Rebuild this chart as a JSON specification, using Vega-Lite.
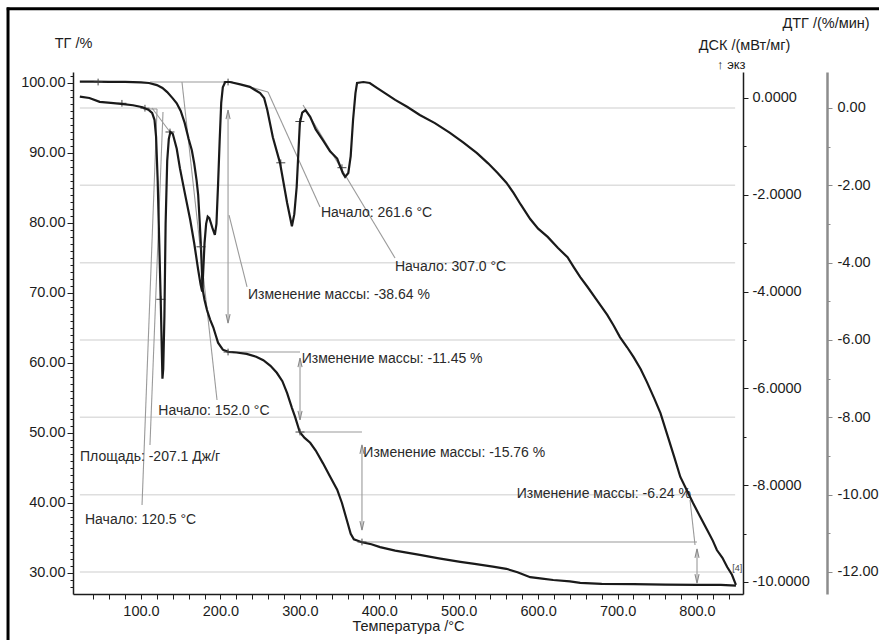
{
"$schema": "https://vega.github.io/schema/vega-lite/v6.json",
"width": 670, "height": 522,
"autosize": {"type": "none"},
"padding": {"left": 73, "top": 72, "right": 136, "bottom": 46},
"background": "white",
"config": {
  "view": {"stroke": null},
  "font": "Liberation Sans",
  "axis": {"labelFont": "Liberation Sans", "titleFont": "Liberation Sans", "labelFontSize": 14.5, "titleFontSize": 14.5, "titleFontWeight": "normal", "labelColor": "#1c1c1c", "titleColor": "#1c1c1c", "grid": false, "labelOverlap": false, "labelFlush": false, "domainColor": "#1c1c1c", "tickColor": "#1c1c1c", "domainWidth": 1.5, "tickWidth": 1}
},
"datasets": {
  "tg": [{"T":23,"v":100.2},{"T":40,"v":100.2},{"T":60,"v":100.15},{"T":80,"v":100.15},{"T":100,"v":100.1},{"T":110,"v":100.0},{"T":120,"v":99.7},{"T":127,"v":99.3},{"T":133,"v":98.7},{"T":140,"v":97.8},{"T":145,"v":97.1},{"T":150,"v":96.0},{"T":155,"v":94.3},{"T":160,"v":92.0},{"T":164,"v":90.4},{"T":167,"v":88.5},{"T":170,"v":86.1},{"T":172,"v":84.0},{"T":174,"v":80.0},{"T":175.5,"v":76.6},{"T":176.5,"v":73.7},{"T":177.5,"v":70.6},{"T":180,"v":69.0},{"T":183,"v":67.6},{"T":187,"v":66.2},{"T":191,"v":65.1},{"T":194,"v":64.0},{"T":197,"v":62.9},{"T":203,"v":61.9},{"T":210,"v":61.6},{"T":220,"v":61.5},{"T":233,"v":61.3},{"T":245,"v":60.9},{"T":254,"v":60.4},{"T":263,"v":59.6},{"T":271,"v":58.6},{"T":278,"v":57.4},{"T":284,"v":55.7},{"T":290,"v":53.6},{"T":294,"v":52.3},{"T":300,"v":50.1},{"T":306,"v":49.3},{"T":313,"v":48.6},{"T":320,"v":47.5},{"T":329,"v":45.7},{"T":338,"v":43.8},{"T":347,"v":41.9},{"T":353,"v":40.0},{"T":359,"v":37.6},{"T":364,"v":35.6},{"T":368,"v":34.8},{"T":373,"v":34.6},{"T":378,"v":34.4},{"T":390,"v":34.1},{"T":401,"v":33.7},{"T":420,"v":33.2},{"T":451,"v":32.6},{"T":475,"v":32.1},{"T":502,"v":31.6},{"T":520,"v":31.3},{"T":543,"v":30.9},{"T":560,"v":30.6},{"T":574,"v":30.1},{"T":590,"v":29.4},{"T":605,"v":29.2},{"T":619,"v":29.0},{"T":640,"v":28.8},{"T":653,"v":28.6},{"T":680,"v":28.45},{"T":720,"v":28.4},{"T":760,"v":28.35},{"T":800,"v":28.3},{"T":830,"v":28.3},{"T":849,"v":28.2}],
  "dsc": [{"T":23,"v":0.03},{"T":35,"v":0.0},{"T":48,"v":-0.08},{"T":62,"v":-0.1},{"T":75,"v":-0.12},{"T":90,"v":-0.15},{"T":102,"v":-0.19},{"T":110,"v":-0.25},{"T":114,"v":-0.31},{"T":117,"v":-0.45},{"T":119,"v":-0.8},{"T":121,"v":-1.7},{"T":123,"v":-3.0},{"T":125,"v":-4.3},{"T":127,"v":-5.8},{"T":128,"v":-5.6},{"T":129.5,"v":-4.5},{"T":131,"v":-2.6},{"T":133,"v":-1.3},{"T":135,"v":-0.85},{"T":137,"v":-0.7},{"T":140,"v":-0.74},{"T":145,"v":-1.05},{"T":149,"v":-1.45},{"T":155,"v":-1.95},{"T":162,"v":-2.52},{"T":167,"v":-3.0},{"T":172,"v":-3.55},{"T":175,"v":-3.85},{"T":177,"v":-4.0},{"T":178,"v":-3.7},{"T":180,"v":-3.0},{"T":182,"v":-2.6},{"T":184,"v":-2.45},{"T":186,"v":-2.48},{"T":190,"v":-2.69},{"T":193,"v":-2.83},{"T":195,"v":-2.6},{"T":197,"v":-1.8},{"T":199,"v":-0.9},{"T":201,"v":-0.1},{"T":203,"v":0.22},{"T":206,"v":0.33},{"T":212,"v":0.33},{"T":225,"v":0.28},{"T":237,"v":0.23},{"T":250,"v":0.1},{"T":255,"v":0.0},{"T":259,"v":-0.25},{"T":266,"v":-0.81},{"T":275,"v":-1.34},{"T":284,"v":-2.17},{"T":290,"v":-2.65},{"T":293,"v":-2.4},{"T":296,"v":-1.84},{"T":300,"v":-0.52},{"T":303,"v":-0.3},{"T":307,"v":-0.25},{"T":313,"v":-0.39},{"T":320,"v":-0.65},{"T":329,"v":-0.87},{"T":338,"v":-1.1},{"T":347,"v":-1.25},{"T":354,"v":-1.55},{"T":357,"v":-1.63},{"T":361,"v":-1.55},{"T":364,"v":-1.2},{"T":367,"v":-0.45},{"T":370,"v":0.1},{"T":372,"v":0.31},{"T":380,"v":0.33},{"T":388,"v":0.31},{"T":397,"v":0.21},{"T":410,"v":0.07},{"T":420,"v":-0.04},{"T":435,"v":-0.18},{"T":451,"v":-0.35},{"T":470,"v":-0.52},{"T":489,"v":-0.72},{"T":506,"v":-0.92},{"T":523,"v":-1.14},{"T":537,"v":-1.35},{"T":549,"v":-1.55},{"T":560,"v":-1.75},{"T":569,"v":-1.96},{"T":578,"v":-2.2},{"T":590,"v":-2.5},{"T":600,"v":-2.7},{"T":612,"v":-2.87},{"T":625,"v":-3.1},{"T":637,"v":-3.29},{"T":645,"v":-3.5},{"T":653,"v":-3.7},{"T":662,"v":-3.9},{"T":675,"v":-4.2},{"T":687,"v":-4.48},{"T":695,"v":-4.7},{"T":703,"v":-4.94},{"T":712,"v":-5.15},{"T":720,"v":-5.35},{"T":729,"v":-5.6},{"T":737,"v":-5.87},{"T":746,"v":-6.2},{"T":754,"v":-6.51},{"T":763,"v":-6.98},{"T":771,"v":-7.4},{"T":779,"v":-7.83},{"T":787,"v":-8.1},{"T":795,"v":-8.37},{"T":804,"v":-8.65},{"T":813,"v":-8.93},{"T":820,"v":-9.15},{"T":825,"v":-9.34},{"T":832,"v":-9.5},{"T":838,"v":-9.69},{"T":844,"v":-9.85},{"T":849,"v":-10.06}],
  "dtgGrid": [{"g":0},{"g":-2},{"g":-4},{"g":-6},{"g":-8},{"g":-10},{"g":-12}],
  "frameV": [{"x":-67.4,"y1":15,"y2":110.8}],
  "frameH": [{"y":110.6,"x1":-69,"x2":1035}],
  "segs": [
    {"T1":111.4,"v1":100.14,"T2":209.6,"v2":100.14},
    {"T1":151.6,"v1":100.14,"T2":195.7,"v2":54.71},
    {"T1":209.6,"v1":96.14,"T2":209.6,"v2":65.71},
    {"T1":209.6,"v1":61.57,"T2":300.2,"v2":61.57},
    {"T1":300.2,"v1":60.71,"T2":300.2,"v2":51.86},
    {"T1":300.2,"v1":50.14,"T2":378.2,"v2":50.14},
    {"T1":378.2,"v1":48.29,"T2":378.2,"v2":36.14},
    {"T1":378.2,"v1":34.43,"T2":800,"v2":34.43},
    {"T1":800,"v1":33.43,"T2":800,"v2":28.57},
    {"T1":791.2,"v1":40.43,"T2":797.5,"v2":34.0},
    {"T1":210.8,"v1":81.14,"T2":233.5,"v2":70.86},
    {"T1":259.9,"v1":98.71,"T2":325.4,"v2":82.29},
    {"T1":304,"v1":96.86,"T2":419.8,"v2":75.0},
    {"T1":237.2,"v1":99.43,"T2":259.9,"v2":98.71},
    {"T1":102.6,"v1":96.29,"T2":120.2,"v2":96.29},
    {"T1":120.2,"v1":96.29,"T2":101.3,"v2":39.71},
    {"T1":127.7,"v1":95.86,"T2":111.3,"v2":48.29},
    {"T1":113.9,"v1":96.43,"T2":136.5,"v2":93.0}
  ],
  "arrows": [{"T":209.6,"v":96.14,"dir":"up"},{"T":209.6,"v":65.71,"dir":"down"},{"T":300.2,"v":60.71,"dir":"up"},{"T":300.2,"v":51.86,"dir":"down"},{"T":378.2,"v":48.29,"dir":"up"},{"T":378.2,"v":36.14,"dir":"down"},{"T":800,"v":33.43,"dir":"up"},{"T":800,"v":28.57,"dir":"down"}],
  "crosses": [{"T":46,"v":100.14},{"T":76,"v":97.1},{"T":105,"v":96.4},{"T":136.5,"v":93.0},{"T":125,"v":69.1},{"T":175.5,"v":76.6},{"T":209.6,"v":100.14},{"T":209.6,"v":61.57},{"T":276,"v":88.6},{"T":300,"v":94.5},{"T":353,"v":87.9},{"T":300.2,"v":50.14},{"T":378.2,"v":34.43}],
  "labels": [
    {"T":326.6,"v":81.43,"text":"Начало: 261.6 °C"},
    {"T":419.8,"v":73.76,"text":"Начало: 307.0 °C"},
    {"T":234.7,"v":69.7,"text":"Изменение массы: -38.64 %"},
    {"T":302.3,"v":60.53,"text":"Изменение массы: -11.45 %"},
    {"T":121.8,"v":53.19,"text":"Начало: 152.0 °C"},
    {"T":23.2,"v":46.6,"text":"Площадь: -207.1 Дж/г"},
    {"T":379.9,"v":47.1,"text":"Изменение массы: -15.76 %"},
    {"T":573,"v":41.29,"text":"Изменение массы: -6.24 %"},
    {"T":29.5,"v":37.57,"text":"Начало: 120.5 °C"}
  ],
  "small": [{"T":844.5,"v":30.7,"text":"[4]"}],
  "exo": [{"T":825.2,"v":102.57,"text":"↑ экз"}]
},
"layer": [
  {
    "data": {"name": "dtgGrid"},
    "mark": {"type": "rule", "color": "#dedede", "strokeWidth": 1.5},
    "encoding": {
      "x": {"datum": 23, "type": "quantitative", "scale": {"domain": [14.4, 857.9], "nice": false, "zero": false}},
      "x2": {"datum": 848},
      "y": {"field": "g", "type": "quantitative", "scale": {"domain": [-12.57, 0.93], "nice": false, "zero": false},
        "axis": {"orient": "right", "offset": 84, "values": [-12,-11,-10,-9,-8,-7,-6,-5,-4,-3,-2,-1,0], "tickCount": 100,
          "labelExpr": "datum.value % 2 === 0 ? replace(format(datum.value, '.2f'), '\u2212', '-') : ''",
          "tickSize": {"condition": {"test": "datum.value % 2 === 0", "value": 5}, "value": 3},
          "domainColor": "#8c8c8c", "tickColor": "#8c8c8c", "domainWidth": 2.5, "labelPadding": 5,
          "title": "ДТГ /(%/мин)", "titleAngle": 0, "titleAlign": "center", "titleBaseline": "middle", "titleX": -1.5, "titleY": -49}}
    }
  },
  {
    "layer": [
      {
        "data": {"name": "frameV"},
        "mark": {"type": "rule", "color": "#000000", "strokeWidth": 3},
        "encoding": {
          "x": {"field": "x", "type": "quantitative", "scale": {"domain": [14.4, 857.9], "nice": false, "zero": false}},
          "y": {"field": "y1", "type": "quantitative", "scale": {"domain": [27, 101.571], "nice": false, "zero": false}},
          "y2": {"field": "y2"}
        }
      },
      {
        "data": {"name": "frameH"},
        "mark": {"type": "rule", "color": "#000000", "strokeWidth": 3},
        "encoding": {
          "x": {"field": "x1", "type": "quantitative", "scale": {"domain": [14.4, 857.9], "nice": false, "zero": false}},
          "x2": {"field": "x2"},
          "y": {"field": "y", "type": "quantitative", "scale": {"domain": [27, 101.571], "nice": false, "zero": false}}
        }
      },
      {
        "data": {"name": "segs"},
        "mark": {"type": "rule", "color": "#9a9a9a", "strokeWidth": 1.1},
        "encoding": {
          "x": {"field": "T1", "type": "quantitative", "scale": {"domain": [14.4, 857.9], "nice": false, "zero": false}},
          "x2": {"field": "T2"},
          "y": {"field": "v1", "type": "quantitative", "scale": {"domain": [27, 101.571], "nice": false, "zero": false}},
          "y2": {"field": "v2"}
        }
      },
      {
        "data": {"name": "arrows"},
        "mark": {"type": "point", "filled": false, "color": "#8a8a8a", "strokeWidth": 1.1, "size": 81, "opacity": 1},
        "encoding": {
          "x": {"field": "T", "type": "quantitative", "scale": {"domain": [14.4, 857.9], "nice": false, "zero": false}},
          "y": {"field": "v", "type": "quantitative", "scale": {"domain": [27, 101.571], "nice": false, "zero": false}},
          "shape": {"field": "dir", "type": "nominal", "scale": {"domain": ["up", "down"], "range": ["M-0.45,2L0,0L0.45,2", "M-0.45,-2L0,0L0.45,-2"]}, "legend": null}
        }
      },
      {
        "data": {"name": "labels"},
        "mark": {"type": "text", "align": "left", "baseline": "middle", "font": "Liberation Sans", "fontSize": 14, "color": "#2a2a2a"},
        "encoding": {
          "x": {"field": "T", "type": "quantitative", "scale": {"domain": [14.4, 857.9], "nice": false, "zero": false}},
          "y": {"field": "v", "type": "quantitative", "scale": {"domain": [27, 101.571], "nice": false, "zero": false}},
          "text": {"field": "text"}
        }
      },
      {
        "data": {"name": "small"},
        "mark": {"type": "text", "align": "left", "baseline": "middle", "font": "Liberation Sans", "fontSize": 9, "color": "#444444"},
        "encoding": {
          "x": {"field": "T", "type": "quantitative", "scale": {"domain": [14.4, 857.9], "nice": false, "zero": false}},
          "y": {"field": "v", "type": "quantitative", "scale": {"domain": [27, 101.571], "nice": false, "zero": false}},
          "text": {"field": "text"}
        }
      },
      {
        "data": {"name": "exo"},
        "mark": {"type": "text", "align": "left", "baseline": "middle", "font": "Liberation Sans", "fontSize": 13, "color": "#1c1c1c"},
        "encoding": {
          "x": {"field": "T", "type": "quantitative", "scale": {"domain": [14.4, 857.9], "nice": false, "zero": false}},
          "y": {"field": "v", "type": "quantitative", "scale": {"domain": [27, 101.571], "nice": false, "zero": false}},
          "text": {"field": "text"}
        }
      },
      {
        "data": {"name": "tg"},
        "mark": {"type": "line", "color": "#1a1a1a", "strokeWidth": 2.2},
        "encoding": {
          "x": {"field": "T", "type": "quantitative", "scale": {"domain": [14.4, 857.9], "nice": false, "zero": false},
            "axis": {"orient": "bottom", "values": [40,60,80,100,120,140,160,180,200,220,240,260,280,300,320,340,360,380,400,420,440,460,480,500,520,540,560,580,600,620,640,660,680,700,720,740,760,780,800,820,840], "tickCount": 200,
              "labelExpr": "datum.value % 100 === 0 ? format(datum.value, '.1f') : ''", "tickSize": 5, "labelPadding": 5,
              "title": "Температура /°C", "titlePadding": 2}},
          "y": {"field": "v", "type": "quantitative", "scale": {"domain": [27, 101.571], "nice": false, "zero": false},
            "axis": {"orient": "left", "values": [28,29,30,31,32,33,34,35,36,37,38,39,40,41,42,43,44,45,46,47,48,49,50,51,52,53,54,55,56,57,58,59,60,61,62,63,64,65,66,67,68,69,70,71,72,73,74,75,76,77,78,79,80,81,82,83,84,85,86,87,88,89,90,91,92,93,94,95,96,97,98,99,100,101], "tickCount": 200,
              "labelExpr": "datum.value % 10 === 0 ? format(datum.value, '.2f') : ''",
              "tickSize": {"condition": {"test": "datum.value % 10 === 0", "value": 6}, "value": 3},
              "labelPadding": 2,
              "title": "ТГ /%", "titleAngle": 0, "titleAlign": "center", "titleBaseline": "middle", "titleX": 0, "titleY": -29}}
        }
      },
      {
        "data": {"name": "crosses"},
        "mark": {"type": "point", "filled": false, "color": "#444444", "strokeWidth": 1, "size": 81, "opacity": 1, "shape": "M-1,0L1,0M0,-0.75L0,0.75"},
        "encoding": {
          "x": {"field": "T", "type": "quantitative", "scale": {"domain": [14.4, 857.9], "nice": false, "zero": false}},
          "y": {"field": "v", "type": "quantitative", "scale": {"domain": [27, 101.571], "nice": false, "zero": false}}
        }
      }
    ]
  },
  {
    "data": {"name": "dsc"},
    "mark": {"type": "line", "color": "#1a1a1a", "strokeWidth": 2.2},
    "encoding": {
      "x": {"field": "T", "type": "quantitative", "scale": {"domain": [14.4, 857.9], "nice": false, "zero": false}},
      "y": {"field": "v", "type": "quantitative", "scale": {"domain": [-10.248, 0.537], "nice": false, "zero": false},
        "axis": {"orient": "right", "values": [-10,-9,-8,-7,-6,-5,-4,-3,-2,-1,0], "tickCount": 100,
          "labelExpr": "datum.value % 2 === 0 ? replace(format(datum.value, '.4f'), '\u2212', '-') : ''",
          "tickSize": {"condition": {"test": "datum.value % 2 === 0", "value": 5}, "value": 3},
          "labelPadding": 4,
          "title": "ДСК /(мВт/мг)", "titleAngle": 0, "titleAlign": "center", "titleBaseline": "middle", "titleX": 1, "titleY": -27}}
    }
  }
],
"resolve": {"scale": {"y": "independent"}, "axis": {"y": "independent"}}
}
